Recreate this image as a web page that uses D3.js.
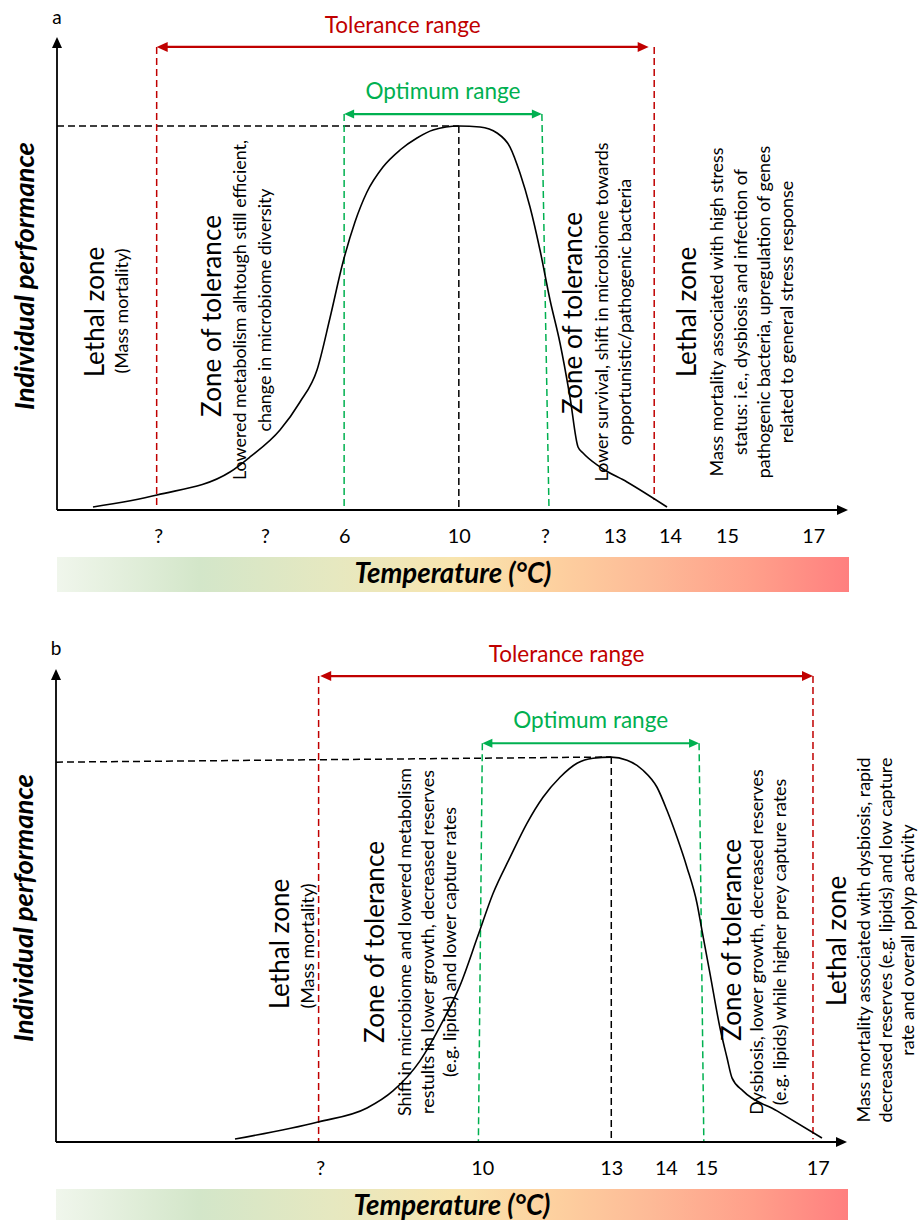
<!DOCTYPE html>
<html><head><meta charset="utf-8">
<script src="https://cdn.jsdelivr.net/npm/d3@7"></script>
<style>body{margin:0;background:#fff}</style>
</head><body>
<svg id="chart" width="920" height="1220"></svg>
<script>
// ================= DATA (axis units: 0-100 along each axis) =================
// Panel a
const tickPosA    = [12.8, 26.3, 36.3, 50.8, 61.7, 70.5, 77.5, 84.7, 95.6];
const tickLabelsA = ["?", "?", "6", "10", "?", "13", "14", "15", "17"];
const curveXA = [4.55, 12.64, 21.87, 24.40, 28.19, 30.72, 32.87, 34.51, 36.16, 37.67, 39.19, 41.21, 43.36, 45.51, 47.54, 50.82,
                 53.48, 55.63, 57.27, 58.53, 59.80, 61.06, 62.33, 63.59, 64.85, 65.87, 66.50, 68.65, 72.06, 77.12];
const curveYA = [0.63, 3.17, 8.03, 11.21, 16.91, 22.83, 29.60, 40.59, 52.43, 60.89, 67.23, 72.52, 76.11, 78.65, 80.34, 81.18,
                 80.97, 79.70, 76.74, 71.25, 64.06, 54.97, 44.40, 35.31, 23.89, 13.32, 12.05, 9.09, 5.92, 0.63];
const toleranceLinesA  = [12.6, 75.5];
const toleranceArrowA  = [12.6, 74.8];
const toleranceLevelA  = 97.9;
const toleranceBottomA = [0.6, 2.1];
const optimumTopA      = [36.3, 61.3];
const optimumBottomA   = [36.3, 62.2];
const optimumLevelA    = 83.7;
const peakA            = [50.8, 81.2];
const refStartA        = 81.2;

// Panel b
const tickPosB    = [33.4, 53.9, 70.2, 77.1, 82.2, 96.3];
const tickLabelsB = ["?", "10", "13", "14", "15", "17"];
const curveXB = [22.63, 33.12, 39.32, 42.60, 46.02, 48.93, 51.07, 53.35, 55.25, 57.40, 59.54, 61.57, 63.72, 65.87, 67.89, 70.16,
                 72.19, 74.21, 75.98, 77.24, 78.51, 79.77, 81.04, 81.67, 82.68, 83.94, 84.83, 85.46, 86.85, 91.15, 96.84];
const curveYB = [0.64, 4.24, 7.20, 10.81, 17.16, 25.64, 33.05, 43.64, 52.54, 60.17, 67.37, 72.88, 77.12, 80.08, 81.14, 81.36,
                 80.72, 78.60, 75.00, 70.13, 64.41, 58.05, 50.42, 44.70, 35.59, 24.15, 17.80, 13.56, 10.81, 6.57, 0.85];
const toleranceLinesB  = [33.2, 95.7];
const toleranceArrowB  = [33.4, 95.7];
const toleranceLevelB  = 98.5;
const toleranceBottomB = [0.2, 0.6];
const optimumTopB      = [53.9, 81.3];
const optimumBottomB   = [53.4, 81.9];
const optimumLevelB    = 84.3;
const peakB            = [70.2, 81.4];
const refStartB        = 80.3;

// Texts
const annotationsA = [
  ["Lethal zone"], ["(Mass mortality)"],
  ["Zone of tolerance"], ["Lowered metabolism alhtough still efficient,", "change in microbiome diversity"],
  ["Zone of tolerance"], ["Lower survival, shift in microbiome towards", "opportunistic/pathogenic bacteria"],
  ["Lethal zone"], ["Mass mortality associated with high stress", "status: i.e., dysbiosis and infection of",
                    "pathogenic bacteria, upregulation of genes", "related to general stress response"]
];
const annotationsB = [
  ["Lethal zone"], ["(Mass mortality)"],
  ["Zone of tolerance"], ["Shift in microbiome and lowered metabolism", "restults in lower growth, decreased reserves",
                          "(e.g. lipids) and lower capture rates"],
  ["Zone of tolerance"], ["Dysbiosis, lower growth, decreased reserves", "(e.g. lipids) while higher prey capture rates"],
  ["Lethal zone"], ["Mass mortality associated with dysbiosis, rapid", "decreased reserves (e.g. lipids) and low capture",
                    "rate and overall polyp activity"]
];

// ================= LAYOUT / STYLE =================
const FONT = "Lato, 'Open Sans', sans-serif";
const RED = "#C00000", GREEN = "#00B050";
const W = 791, H = 473;
// annotation placement (panel-relative px): [x of first column, centre y, kind, line step]
const annoLayoutA = [[38,275,"title",0],[65,274,"desc",0],[155,279,"title",0],[183,273,"desc",24.5],
                     [516,276,"title",0],[545,275,"desc",23],[630,275,"title",0],[660,275,"desc",23.3]];
const annoLayoutB = [[224,275,"title",0],[252,277,"desc",0],[319,273,"title",0],[349,273,"desc",22.5],
                     [676,271,"title",0],[701,273,"desc",23],[781,272,"title",0],[808,271,"desc",22]];
const gradStops = [[0,"#F0F6EC"],[18,"#D3E6C9"],[35,"#E6E8C0"],[50,"#F8E5AF"],[62,"#FDD2A0"],[75,"#FDBA97"],[88,"#FF9F8A"],[100,"#FF7F7F"]];

const svg = d3.select("#chart");
svg.append("rect").attr("width", 920).attr("height", 1220).attr("fill", "#fff");
const defs = svg.append("defs");
const grad = defs.append("linearGradient").attr("id", "tempGrad").attr("x1", "0%").attr("x2", "100%").attr("y1", "0%").attr("y2", "0%");
gradStops.forEach(s => grad.append("stop").attr("offset", s[0] + "%").attr("stop-color", s[1]));

function fit(str, target, weight, style) {
  const t = svg.append("text").attr("font-family", FONT).attr("font-size", 100)
    .attr("font-weight", weight || "normal").attr("font-style", style || "normal").text(str);
  const w = t.node().getComputedTextLength();
  t.remove();
  return 100 * target / w;
}
const SZ = {
  title: fit("Zone of tolerance", 202),
  desc: fit("Mass mortality associated with high stress", 329),
  range: fit("Tolerance range", 156),
  tick: fit("13", 23),
  xTitle: fit("Temperature (°C)", 197, "bold", "italic"),
  yTitle: fit("Individual performance", 268, "bold", "italic")
};

const x = d3.scaleLinear().domain([0, 100]).range([0, W]);
const y = d3.scaleLinear().domain([0, 100]).range([H, 0]);

function tri(g, tx, ty, dir, len, wid, color) {
  let p;
  if (dir === "left")  p = [[tx, ty], [tx + len, ty - wid / 2], [tx + len, ty + wid / 2]];
  if (dir === "right") p = [[tx, ty], [tx - len, ty - wid / 2], [tx - len, ty + wid / 2]];
  if (dir === "up")    p = [[tx, ty], [tx - wid / 2, ty + len], [tx + wid / 2, ty + len]];
  g.append("path").attr("d", "M" + p.map(q => q.join(",")).join("L") + "Z").attr("fill", color);
}

function drawPanel(cfg) {
  const g = svg.append("g").attr("transform", `translate(${cfg.origin[0]},${cfg.origin[1]})`);

  // panel letter
  g.append("text").attr("x", 0).attr("y", cfg.letterY).attr("text-anchor", "middle")
    .attr("font-family", FONT).attr("font-size", 19).text(cfg.letter);

  // reference dashed lines (black)
  g.append("line").attr("x1", 0).attr("y1", y(cfg.refStart)).attr("x2", x(cfg.peak[0])).attr("y2", y(cfg.peak[1]))
    .attr("stroke", "#000").attr("stroke-width", 1.5).attr("stroke-dasharray", "7,4");
  g.append("line").attr("x1", x(cfg.peak[0])).attr("y1", y(cfg.peak[1])).attr("x2", x(cfg.peak[0])).attr("y2", y(0))
    .attr("stroke", "#000").attr("stroke-width", 1.5).attr("stroke-dasharray", "7,4");

  // tolerance dashed lines
  cfg.tolLines.forEach((v, i) => {
    g.append("line").attr("x1", x(v)).attr("y1", y(cfg.tolLevel)).attr("x2", x(v)).attr("y2", y(cfg.tolBottom[i]))
      .attr("stroke", RED).attr("stroke-width", 1.5).attr("stroke-dasharray", "7,4");
  });
  // optimum dashed lines
  cfg.optTop.forEach((v, i) => {
    g.append("line").attr("x1", x(v)).attr("y1", y(cfg.optLevel)).attr("x2", x(cfg.optBottom[i])).attr("y2", y(0))
      .attr("stroke", GREEN).attr("stroke-width", 1.5).attr("stroke-dasharray", "7,4");
  });

  // tolerance arrow
  const ty = y(cfg.tolLevel);
  g.append("line").attr("x1", x(cfg.tolArrow[0]) + 5).attr("x2", x(cfg.tolArrow[1]) - 5).attr("y1", ty).attr("y2", ty)
    .attr("stroke", RED).attr("stroke-width", 2.2);
  tri(g, x(cfg.tolArrow[0]), ty, "left", 11, 10, RED);
  tri(g, x(cfg.tolArrow[1]), ty, "right", 11, 10, RED);
  g.append("text").attr("x", (x(cfg.tolArrow[0]) + x(cfg.tolArrow[1])) / 2).attr("y", ty - 14)
    .attr("text-anchor", "middle").attr("font-family", FONT).attr("font-size", SZ.range).attr("fill", RED)
    .text("Tolerance range");

  // optimum arrow
  const oy = y(cfg.optLevel);
  g.append("line").attr("x1", x(cfg.optTop[0]) + 5).attr("x2", x(cfg.optTop[1]) - 5).attr("y1", oy).attr("y2", oy)
    .attr("stroke", GREEN).attr("stroke-width", 2.2);
  tri(g, x(cfg.optTop[0]), oy, "left", 10, 9, GREEN);
  tri(g, x(cfg.optTop[1]), oy, "right", 10, 9, GREEN);
  g.append("text").attr("x", (x(cfg.optTop[0]) + x(cfg.optTop[1])) / 2).attr("y", oy - 15)
    .attr("text-anchor", "middle").attr("font-family", FONT).attr("font-size", SZ.range).attr("fill", GREEN)
    .text("Optimum range");

  // performance curve
  const pts = cfg.curveX.map((v, i) => [v, cfg.curveY[i]]);
  g.append("path").datum(pts)
    .attr("d", d3.line().x(d => x(d[0])).y(d => y(d[1])).curve(d3.curveMonotoneX))
    .attr("fill", "none").attr("stroke", "#000").attr("stroke-width", 1.6);

  // axes
  g.append("line").attr("x1", 0).attr("y1", H).attr("x2", W - 9).attr("y2", H).attr("stroke", "#000").attr("stroke-width", 1.8);
  tri(g, W, H, "right", 11, 10, "#000");
  g.append("line").attr("x1", 0).attr("y1", H).attr("x2", 0).attr("y2", 9).attr("stroke", "#000").attr("stroke-width", 1.8);
  tri(g, 0, 0, "up", 11, 10, "#000");

  const axis = d3.axisBottom(x).tickValues(cfg.tickPos)
    .tickFormat(d => cfg.tickLabels[cfg.tickPos.indexOf(d)]).tickSize(0).tickPadding(19);
  const axG = g.append("g").attr("transform", `translate(0,${H})`).call(axis);
  axG.select(".domain").remove();
  axG.selectAll("text").attr("font-family", FONT).attr("font-size", SZ.tick).attr("fill", "#000");

  // y title
  g.append("text").attr("transform", `translate(${cfg.yTitlePos[0]},${cfg.yTitlePos[1]}) rotate(-90)`)
    .attr("text-anchor", "middle").attr("dy", "0.35em").attr("font-family", FONT)
    .attr("font-weight", "bold").attr("font-style", "italic").attr("font-size", SZ.yTitle)
    .text("Individual performance");

  // temperature gradient bar
  g.append("rect").attr("x", 0).attr("y", H + 47).attr("width", W + 1).attr("height", 35).attr("fill", "url(#tempGrad)");
  g.append("text").attr("x", 396).attr("y", H + 73).attr("text-anchor", "middle").attr("font-family", FONT)
    .attr("font-weight", "bold").attr("font-style", "italic").attr("font-size", SZ.xTitle).text("Temperature (°C)");

  // rotated annotations
  cfg.annotations.forEach((lines, k) => {
    const [ax, ay, kind, step] = cfg.annoLayout[k];
    lines.forEach((line, j) => {
      g.append("text").attr("transform", `translate(${ax + j * step},${ay}) rotate(-90)`)
        .attr("text-anchor", "middle").attr("dy", "0.36em").attr("font-family", FONT)
        .attr("font-size", kind === "title" ? SZ.title : SZ.desc).attr("fill", "#000").text(line);
    });
  });
}

drawPanel({
  origin: [57, 37], letter: "a", letterY: -13,
  tickPos: tickPosA, tickLabels: tickLabelsA, curveX: curveXA, curveY: curveYA,
  tolLines: toleranceLinesA, tolArrow: toleranceArrowA, tolLevel: toleranceLevelA, tolBottom: toleranceBottomA,
  optTop: optimumTopA, optBottom: optimumBottomA, optLevel: optimumLevelA,
  peak: peakA, refStart: refStartA, yTitlePos: [-33, 239],
  annotations: annotationsA, annoLayout: annoLayoutA
});
drawPanel({
  origin: [56, 669], letter: "b", letterY: -14,
  tickPos: tickPosB, tickLabels: tickLabelsB, curveX: curveXB, curveY: curveYB,
  tolLines: toleranceLinesB, tolArrow: toleranceArrowB, tolLevel: toleranceLevelB, tolBottom: toleranceBottomB,
  optTop: optimumTopB, optBottom: optimumBottomB, optLevel: optimumLevelB,
  peak: peakB, refStart: refStartB, yTitlePos: [-33, 239],
  annotations: annotationsB, annoLayout: annoLayoutB
});
</script>
</body></html>
